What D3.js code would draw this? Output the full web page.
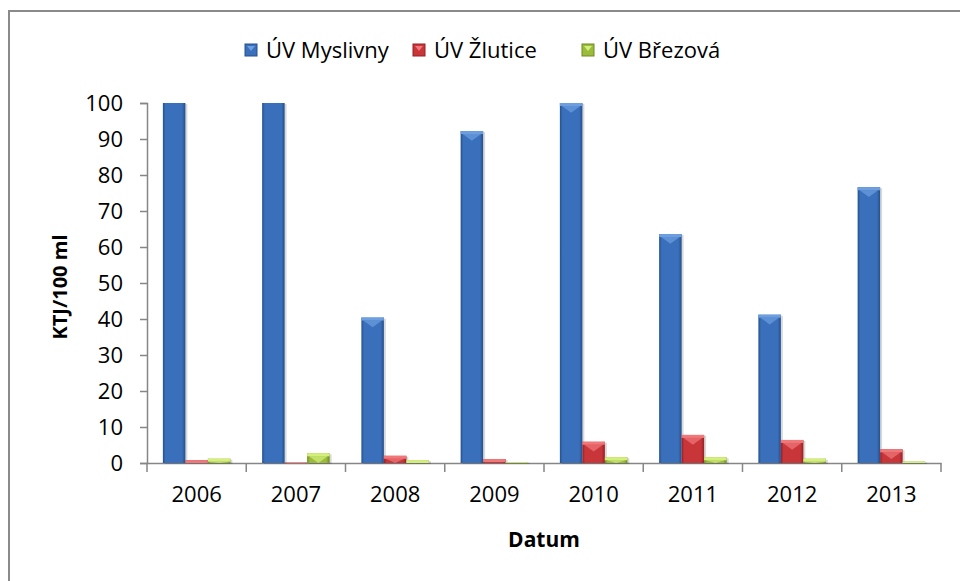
<!DOCTYPE html>
<html>
<head>
<meta charset="utf-8">
<script src="https://cdn.jsdelivr.net/npm/d3@7"></script>
<style>
  body { margin: 0; background: #fff; }
  text { font-family: "Open Sans", Lato, sans-serif; fill: #000; }
</style>
</head>
<body>
<svg id="chart" width="960" height="581"></svg>
<script>
var years = ['2006', '2007', '2008', '2009', '2010', '2011', '2012', '2013']
var seriesNames = ['ÚV Myslivny', 'ÚV Žlutice', 'ÚV Březová']
var myslivny = [120, 110, 40.4, 92.2, 100, 63.6, 41.2, 76.6]
var zlutice = [0.8, 0.1, 2.0, 1.1, 5.9, 7.8, 6.4, 3.8]
var brezova = [1.2, 2.7, 0.8, 0.2, 1.6, 1.6, 1.2, 0.4]
var yTicks = [0, 10, 20, 30, 40, 50, 60, 70, 80, 90, 100]

var colors = [
  { base: '#3a70bb', dark: '#24508c', light: '#6d9ee0' },
  { base: '#c9363a', dark: '#962024', light: '#f0777a' },
  { base: '#9bbb3b', dark: '#6f8a22', light: '#d4ef7c' }
]

var svg = d3.select('#chart')
  , margin = { left: 147, right: 941, top: 103, bottom: 463 }

var x = d3.scaleBand().domain(years).range([margin.left, margin.right]).paddingInner(0).paddingOuter(0)
var inner = d3.scaleBand().domain([0, 1, 2]).range([16, 84]).padding(0)
var y = d3.scaleLinear().domain([0, 100]).range([margin.bottom, margin.top])

// outer border
svg.append('rect').attr('x', 9).attr('y', 11).attr('width', 1000).attr('height', 700)
  .attr('fill', 'none').attr('stroke', '#8a8a8a').attr('stroke-width', 2)

var defs = svg.append('defs')
colors.forEach(function(c, i) {
  var g = defs.append('linearGradient').attr('id', 'grad' + i)
    .attr('x1', '0%').attr('x2', '100%').attr('y1', '0%').attr('y2', '0%')
  g.append('stop').attr('offset', '0%').attr('stop-color', c.dark)
  g.append('stop').attr('offset', '12%').attr('stop-color', c.base)
  g.append('stop').attr('offset', '50%').attr('stop-color', c.base)
  g.append('stop').attr('offset', '85%').attr('stop-color', c.base)
  g.append('stop').attr('offset', '100%').attr('stop-color', c.dark)
})

// y axis
var yAxis = svg.append('g').attr('transform', 'translate(' + margin.left + ',0)')
  .call(d3.axisLeft(y).tickValues(yTicks).tickSize(7).tickPadding(17))
yAxis.select('.domain').attr('stroke', '#868686').attr('stroke-width', 1.5)
yAxis.selectAll('.tick line').attr('stroke', '#868686').attr('stroke-width', 1.5)
yAxis.selectAll('.tick text').style('font-size', '22px').attr('dy', '0.36em')

// x axis
var xAxis = svg.append('g').attr('transform', 'translate(0,' + margin.bottom + ')')
  .call(d3.axisBottom(x).tickSize(0).tickPadding(23))
xAxis.select('.domain').attr('stroke', '#868686').attr('stroke-width', 1.5)
xAxis.selectAll('.tick text').style('font-size', '22px')
var bounds = years.map(function(d) { return x(d) }).concat([margin.right])
xAxis.selectAll('line.sep').data(bounds).enter().append('line').attr('class', 'sep')
  .attr('x1', function(d) { return d }).attr('x2', function(d) { return d })
  .attr('y1', 0).attr('y2', 9).attr('stroke', '#868686').attr('stroke-width', 1.5)

// bars
var data = []
years.forEach(function(yr, i) {
  [myslivny, zlutice, brezova].forEach(function(s, k) {
    data.push({ year: yr, k: k, v: s[i] })
  })
})

var bw = x.bandwidth() / 100
var bars = svg.append('g').selectAll('g.bar').data(data).enter().append('g').attr('class', 'bar')
bars.each(function(d) {
  var g = d3.select(this)
    , x0 = x(d.year) + inner(d.k) * bw
    , w = inner.bandwidth() * bw
    , v = Math.min(d.v, 100)
    , top = y(v)
    , h = margin.bottom - top
    , clipped = d.v > 100
    , c = colors[d.k]
  if (h < 0.5) h = 0.5
  // shadow
  g.append('rect').attr('x', x0 + 2).attr('y', top + 1).attr('width', w).attr('height', h)
    .attr('fill', '#000').attr('opacity', 0.15)
  g.append('rect').attr('x', x0).attr('y', top).attr('width', w).attr('height', h)
    .attr('fill', 'url(#grad' + d.k + ')')
  if (!clipped) {
    var capH = Math.min(h, 3)
    g.append('rect').attr('x', x0).attr('y', top).attr('width', w).attr('height', capH)
      .attr('fill', c.light)
    var triH = Math.min(h - capH, w * 0.3)
    if (triH > 1) {
      g.append('path')
        .attr('d', 'M' + (x0 + 2) + ',' + (top + capH) + 'L' + (x0 + w - 2) + ',' + (top + capH) +
          'L' + (x0 + w / 2) + ',' + (top + capH + triH) + 'Z')
        .attr('fill', c.light).attr('opacity', 0.7)
    }
  }
})

// axis titles
svg.append('text').attr('transform', 'translate(67,287) rotate(-90)')
  .attr('text-anchor', 'middle').style('font-size', '20px').style('font-weight', 'bold')
  .text('KTJ/100 ml')
svg.append('text').attr('x', 544).attr('y', 547)
  .attr('text-anchor', 'middle').style('font-size', '21px').style('font-weight', 'bold')
  .text('Datum')

// legend
var legendX = [245, 413, 582]
var legend = svg.append('g').selectAll('g').data(seriesNames).enter().append('g')
  .attr('transform', function(d, i) { return 'translate(' + legendX[i] + ',44)' })
legend.append('rect').attr('width', 12).attr('height', 12)
  .attr('fill', function(d, i) { return colors[i].base })
  .attr('stroke', function(d, i) { return colors[i].dark })
legend.append('path').attr('d', 'M2,2L10,2L6,7Z')
  .attr('fill', function(d, i) { return colors[i].light })
legend.append('text').attr('x', 21).attr('y', 14).style('font-size', '22px')
  .text(function(d) { return d })
</script>
</body>
</html>
